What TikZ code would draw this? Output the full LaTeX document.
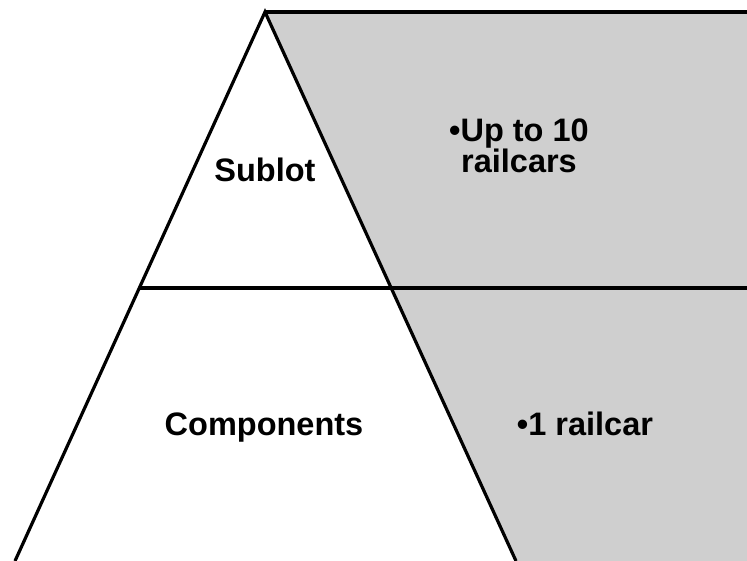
\documentclass[tikz,border=0pt]{standalone}
\usepackage{fontspec}
\setmainfont{Liberation Sans}
\definecolor{greyfill}{HTML}{CFCFCF}
\tikzset{
  edge/.style={line width=3.2pt, black, line cap=butt, line join=miter},
  lbl/.style={font=\fontsize{32.5}{30}\selectfont\bfseries, inner sep=0pt, anchor=base, align=center}
}
\begin{document}
\begin{tikzpicture}[x=1pt,y=-1pt]
\useasboundingbox (0,0) rectangle (747,561);
\coordinate (apex) at (265,12);
\coordinate (tr) at (747,12);
\coordinate (ml) at (140,288);
\coordinate (mr) at (391,288);
\coordinate (mre) at (747,288);
\coordinate (bl) at (15,561);
\coordinate (br) at (516,561);
\coordinate (bre) at (747,561);
\fill[greyfill] (apex) -- (tr) -- (bre) -- (br) -- cycle;
\draw[edge] (apex) -- (tr);
\draw[edge] (ml) -- (mre);
\draw[edge] (bl) -- (apex) -- (br);
\node[lbl] (sub) at (265,182) {Sublot};
\node[lbl] (up) at (519,173) {•Up to 10\\railcars};
\node[lbl] (comp) at (264,435) {Components};
\node[lbl] (one) at (585,435) {•1 railcar};
\end{tikzpicture}
\end{document}
